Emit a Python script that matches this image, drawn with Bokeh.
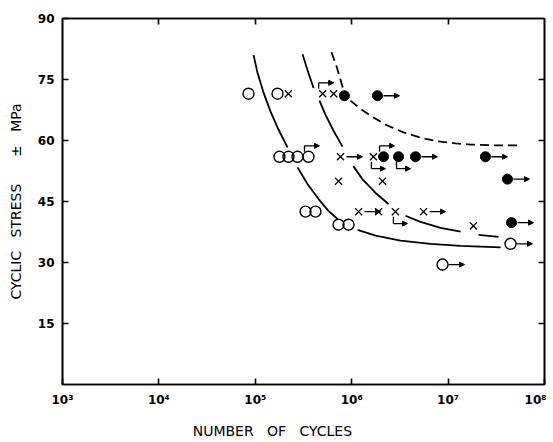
from bokeh.plotting import figure
from bokeh.models import (LogAxis, LinearAxis, FixedTicker, Arrow, NormalHead,
                          ColumnDataSource)
from bokeh.embed import file_html
from bokeh.resources import INLINE

nan = float("nan")

# ---------------- data ----------------
x_ticks = [1000, 10000, 100000, 1000000, 10000000, 100000000]
x_tick_labels = ["10³", "10⁴", "10⁵", "10⁶", "10⁷", "10⁸"]
y_ticks = [15, 30, 45, 60, 75, 90]

open_x = [8.5e4, 1.7e5, 1.78e5, 2.21e5, 2.74e5, 3.56e5, 3.32e5, 4.21e5, 7.3e5, 9.27e5, 8.75e6, 4.44e7]
open_y = [71.5, 71.5, 56, 56, 56, 56, 42.5, 42.5, 39.3, 39.3, 29.5, 34.6]

cross_x = [2.2e5, 5.0e5, 6.5e5, 7.65e5, 1.68e6, 7.3e5, 2.09e6, 1.18e6, 1.9e6, 2.84e6, 5.56e6, 1.83e7]
cross_y = [71.5, 71.5, 71.5, 56, 56, 50, 50, 42.5, 42.5, 42.5, 42.5, 39]

filled_x = [8.4e5, 1.85e6, 2.14e6, 3.06e6, 4.59e6, 2.44e7, 4.13e7, 4.55e7]
filled_y = [71, 71, 56, 56, 56, 56, 50.5, 39.8]

# run-outs (unbroken specimens)
right_x = [1.85e6, 7.65e5, 4.59e6, 2.44e7, 4.13e7, 1.18e6, 5.56e6, 4.55e7, 4.44e7, 8.75e6]
right_y = [71, 56, 56, 56, 50.5, 42.5, 42.5, 39.8, 34.6, 29.5]
up_x = [5.0e5, 3.56e5, 2.14e6]
up_y = [71.5, 56, 56]
down_x = [1.68e6, 3.06e6, 2.84e6]
down_y = [56, 56, 42.5]

curve1_x = [9.6e4, 1.05e5, 1.22e5, 1.44e5, 1.74e5, 2.16e5, nan,
            2.74e5, 3.48e5, 4.53e5, 5.74e5, 7.13e5, nan,
            1.15e6, 1.77e6, 3.21e6, 6.56e6, 1.35e7, 3.50e7]
curve1_y = [81.0, 76.8, 71.7, 67.1, 62.7, 58.3, nan,
            53.4, 49.3, 45.6, 42.7, 40.7, nan,
            38.0, 36.6, 35.4, 34.6, 34.1, 33.7]

curve2_x = [3.09e5, 3.48e5, 4.02e5, nan,
            4.63e5, 5.35e5, 6.48e5, 8.03e5, nan,
            1.04e6, 1.29e6, 1.77e6, 2.41e6, nan,
            3.61e6, 5.17e6, 8.34e6, 1.35e7, nan,
            2.07e7, 3.33e7]
curve2_y = [81.2, 77.3, 72.9, nan,
            69.8, 66.3, 62.4, 58.5, nan,
            53.7, 50.5, 47.1, 44.4, nan,
            41.5, 40.0, 38.5, 37.6, nan,
            36.8, 36.3]

curve3_x = [6.17e5, 6.95e5, 8.22e5, nan,
            9.72e5, 1.23e6, 1.57e6, 2.24e6, 3.44e6, 5.17e6, 7.76e6,
            1.19e7, 1.71e7, 3.10e7, 5.25e7]
curve3_y = [81.7, 78.3, 72.4, nan,
            69.8, 67.8, 66.1, 63.9, 62.0, 60.7, 59.8,
            59.3, 59.0, 58.8, 58.8]

# ---------------- style helpers ----------------
DECADE_PX = 96.4   # pixels per decade on the x axis
UNIT_PX = 4.1      # pixels per MPa on the y axis


def sx(x, px):
    return x * 10 ** (px / DECADE_PX)


def sy(y, px):
    return y + px / UNIT_PX


FONT = "DejaVu Sans"
NBSP = "\u00a0"

p = figure(width=546, height=441, x_axis_type="log",
           x_range=(1e3, 1e8), y_range=(0, 90),
           output_backend="svg", toolbar_location=None,
           min_border_left=62, min_border_right=2,
           min_border_top=18, min_border_bottom=54,
           background_fill_color="white", border_fill_color="white")

p.xgrid.visible = False
p.ygrid.visible = False
p.outline_line_color = "black"
p.outline_line_width = 1.6

xa = p.xaxis[0]
xa.ticker = FixedTicker(ticks=x_ticks)
xa.major_label_overrides = {t: l for t, l in zip(x_ticks, x_tick_labels)}
xa.axis_label = "NUMBER" + NBSP * 3 + "OF" + NBSP * 3 + "CYCLES" + NBSP * 14

ya = p.yaxis[0]
ya.ticker = FixedTicker(ticks=y_ticks)
ya.axis_label = "CYCLIC" + NBSP * 3 + "STRESS" + NBSP * 6 + "±" + NBSP * 3 + "MPa"

for ax in (xa, ya):
    ax.axis_line_color = "black"
    ax.axis_line_width = 1.6
    ax.major_tick_in = 6
    ax.major_tick_out = 0
    ax.major_tick_line_width = 1.6
    ax.minor_tick_line_color = None
    ax.major_label_text_font = FONT
    ax.major_label_text_font_size = "12px"
    ax.major_label_text_font_style = "bold"
    ax.major_label_text_color = "black"
    ax.major_label_standoff = 8
    ax.axis_label_text_font = FONT
    ax.axis_label_text_font_size = "14px"
    ax.axis_label_text_font_style = "normal"
    ax.axis_label_text_color = "black"
xa.axis_label_standoff = 13
ya.axis_label_standoff = 11

top = LogAxis(ticker=FixedTicker(ticks=x_ticks[1:-1]),
              major_label_overrides={t: "" for t in x_ticks[1:-1]})
right = LinearAxis(ticker=FixedTicker(ticks=y_ticks[:-1]),
                   major_label_overrides={t: "" for t in y_ticks[:-1]})
for ax in (top, right):
    ax.axis_line_color = "black"
    ax.axis_line_width = 1.6
    ax.major_tick_in = 6
    ax.major_tick_out = 0
    ax.major_tick_line_width = 1.6
    ax.minor_tick_line_color = None
    ax.major_label_standoff = 0
    ax.major_label_text_font_size = "1px"
p.add_layout(top, "above")
p.add_layout(right, "right")

# curves
p.line(curve1_x, curve1_y, line_color="black", line_width=1.8)
p.line(curve2_x, curve2_y, line_color="black", line_width=1.8)
p.line(curve3_x, curve3_y, line_color="black", line_width=1.8, line_dash="9 5")

# markers
p.scatter(open_x, open_y, marker="circle", size=11, fill_color=None,
          line_color="black", line_width=1.4)
p.scatter(filled_x, filled_y, marker="circle", size=10, fill_color="black",
          line_color="black")
p.scatter(cross_x, cross_y, marker="x", size=10, line_color="black", line_width=1.3)

# run-out arrows
head = dict(size=5, fill_color="black", line_color="black", line_width=1)
xs, ys, xe, ye = [], [], [], []
for x, y in zip(right_x, right_y):
    xs.append(sx(x, 6)); ys.append(y); xe.append(sx(x, 22)); ye.append(y)
seg_x0, seg_y0, seg_x1, seg_y1 = [], [], [], []
for x, y in zip(up_x, up_y):
    seg_x0.append(sx(x, -4)); seg_y0.append(sy(y, 5))
    seg_x1.append(sx(x, -4)); seg_y1.append(sy(y, 11))
    xs.append(sx(x, -4)); ys.append(sy(y, 11)); xe.append(sx(x, 11)); ye.append(sy(y, 11))
for x, y in zip(down_x, down_y):
    seg_x0.append(sx(x, -2)); seg_y0.append(sy(y, -5))
    seg_x1.append(sx(x, -2)); seg_y1.append(sy(y, -12))
    xs.append(sx(x, -2)); ys.append(sy(y, -12)); xe.append(sx(x, 12)); ye.append(sy(y, -12))

p.segment(seg_x0, seg_y0, seg_x1, seg_y1, line_color="black", line_width=1.3)
asrc = ColumnDataSource(dict(xs=xs, ys=ys, xe=xe, ye=ye))
p.add_layout(Arrow(end=NormalHead(**head), source=asrc, x_start="xs", y_start="ys",
                   x_end="xe", y_end="ye", line_color="black", line_width=1.3))

open("out.html", "w").write(file_html(p, INLINE))
